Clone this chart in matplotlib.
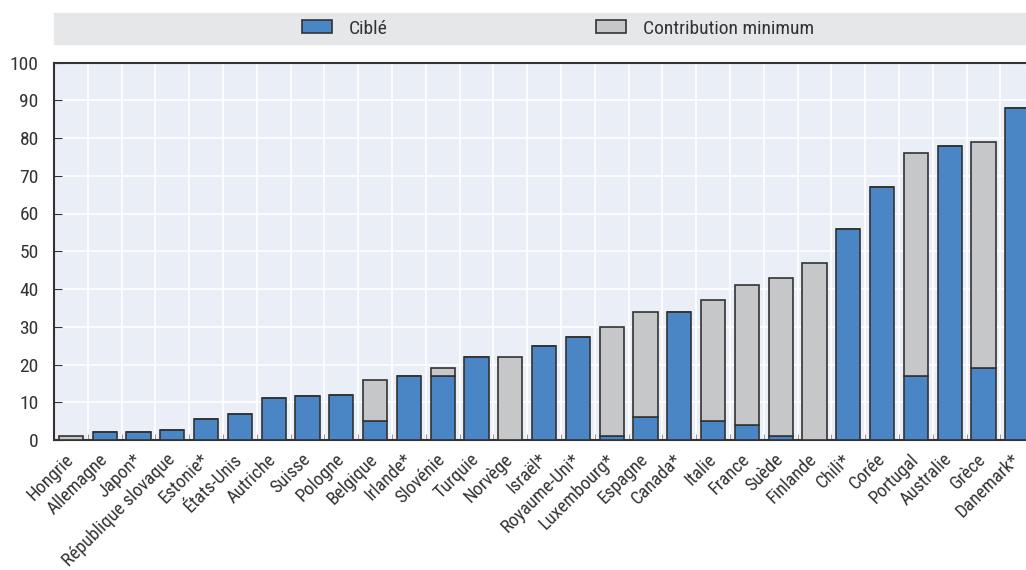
import numpy as np
import matplotlib
matplotlib.use("Agg")
import matplotlib.pyplot as plt
from matplotlib.patches import Rectangle, Patch

pays = ["Hongrie", "Allemagne", "Japon*", "République slovaque", "Estonie*",
        "États-Unis", "Autriche", "Suisse", "Pologne", "Belgique", "Irlande*",
        "Slovénie", "Turquie", "Norvège", "Israël*", "Royaume-Uni*",
        "Luxembourg*", "Espagne", "Canada*", "Italie", "France", "Suède",
        "Finlande", "Chili*", "Corée", "Portugal", "Australie", "Grèce",
        "Danemark*"]
cible = [0, 2, 2, 2.7, 5.6, 7, 11, 11.7, 12, 5, 17, 17, 22, 0, 25, 27.4,
         1, 6, 34, 5, 4, 1, 0, 56, 67, 17, 78, 19, 88]
contrib_min = [1, 0, 0, 0, 0, 0, 0, 0, 0, 11, 0, 2, 0, 22, 0, 0,
               29, 28, 0, 32, 37, 42, 47, 0, 0, 59, 0, 60, 0]

plt.rcParams['font.family'] = ['Roboto Condensed', 'DejaVu Sans']
plt.rcParams['font.size'] = 14
txt = '#333333'

W, H = 1026, 570
fig = plt.figure(figsize=(W / 100, H / 100), dpi=100)
# axes extends past right edge (last bar is cut in the reference)
ax = fig.add_axes([54 / W, 1 - 440 / H, (29 * 33.8) / W, (440 - 62.5) / H])
ax.set_facecolor('#eaeef7')

x = np.arange(len(pays))
cible = np.array(cible)
contrib_min = np.array(contrib_min)
bleu = '#4a86c6'
gris = '#c6c7c9'
ax.bar(x, cible, width=0.72, color=bleu, edgecolor='#333333', linewidth=1.2, zorder=3)
ax.bar(x, contrib_min, bottom=cible, width=0.72, color=gris, edgecolor='#333333',
       linewidth=1.2, zorder=3)

ax.set_xlim(-0.5, len(pays) - 0.5)
ax.set_ylim(0, 100)
ax.set_yticks(np.arange(0, 101, 10))
ax.set_xticks(x)
ax.set_xticklabels(pays, rotation=45, ha='right', va='center', rotation_mode='anchor',
                   color=txt, fontsize=13.3)
ax.set_xticks(np.arange(-0.5, len(pays), 1), minor=True)
ax.tick_params(axis='x', which='major', length=0, pad=12)
ax.tick_params(axis='x', which='minor', length=4, direction='in', color='#888888')
ax.tick_params(axis='y', length=6, direction='in', color='#333333', labelcolor=txt, pad=11)
ax.grid(axis='y', color='white', linewidth=1.2, zorder=0)
ax.grid(axis='x', which='minor', color='white', linewidth=1.2, zorder=0)
ax.set_axisbelow(True)
for s in ['left', 'bottom', 'top']:
    ax.spines[s].set_color('#333333')
    ax.spines[s].set_linewidth(1.5)
ax.spines['right'].set_visible(False)

# legend band
fig.patches.append(Rectangle((54 / W, 1 - 44 / H), (W - 54) / W, 31 / H,
                             transform=fig.transFigure, color='#e6e7e8', zorder=0))
handles = [Patch(facecolor=bleu, edgecolor='#333333', linewidth=1.2, label='Ciblé'),
           Patch(facecolor=gris, edgecolor='#333333', linewidth=1.2, label='Contribution minimum')]
leg = fig.legend(handles=handles, loc='center left', bbox_to_anchor=(302 / W, 1 - 28.5 / H),
                 ncol=2, frameon=False, handlelength=1.54, handleheight=0.67,
                 handletextpad=0.87, columnspacing=10.7, borderpad=0, borderaxespad=0)
for t in leg.get_texts():
    t.set_color(txt)

fig.savefig('out.png', dpi=100)
